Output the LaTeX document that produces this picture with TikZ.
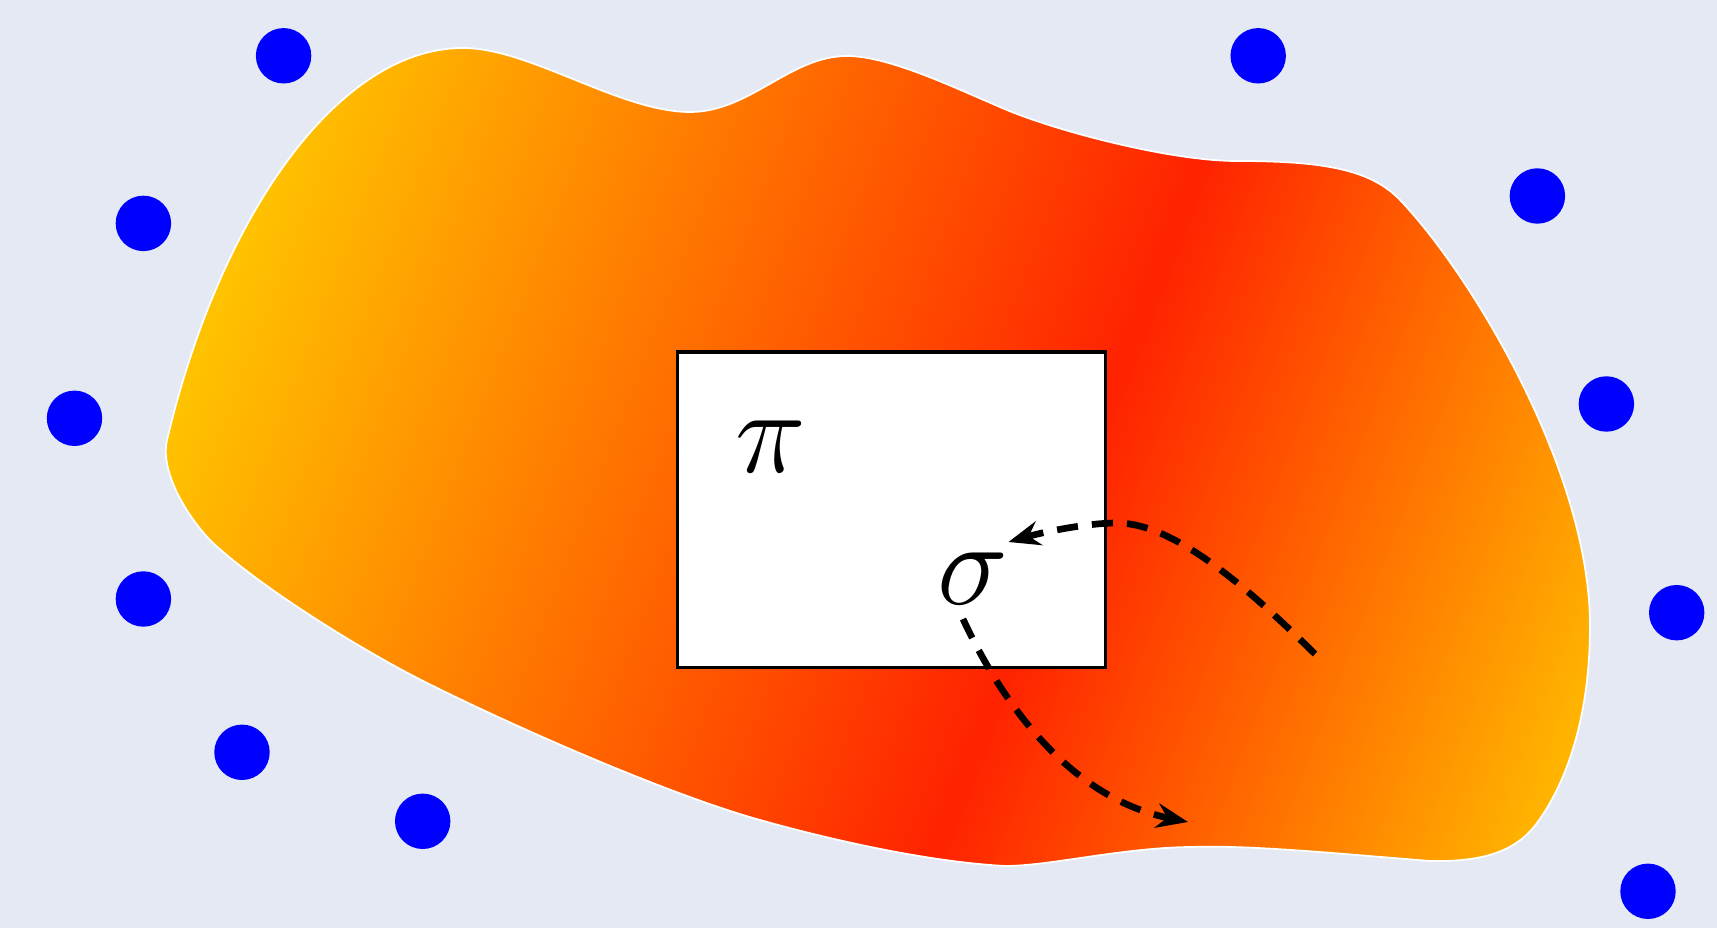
\RequirePackage{fix-cm}
\documentclass[tikz,border=0pt]{standalone}
\usetikzlibrary{arrows.meta,calc}
\definecolor{bg}{HTML}{E4E9F4}
\definecolor{cY}{HTML}{FFC200}
\definecolor{cR}{HTML}{FF2200}
\definecolor{cO}{HTML}{FFB400}
\definecolor{dotblue}{HTML}{0000FF}
\pgfdeclarehorizontalshading{blobshade}{100bp}{color(0bp)=(cY); color(33.6bp)=(cY); color(55.3bp)=(cR); color(69.1bp)=(cO); color(100bp)=(cO)}
\begin{document}
\begin{tikzpicture}[x=0.01cm,y=-0.01cm,
  dot/.style={circle,fill=dotblue,inner sep=0pt,minimum size=0.554cm},
  greek/.style={inner sep=0pt,font=\fontsize{34}{40}\selectfont},
  flow/.style={line width=1.9pt,dash pattern=on 6pt off 4pt,-{Stealth[length=9pt,width=7pt,inset=3pt]}},
  box/.style={draw=black,fill=white,line width=0.95pt,minimum width=4.282cm,minimum height=3.154cm,inner sep=0pt,anchor=north west}]
\useasboundingbox (0,0) rectangle (1717,928);
\fill[bg] (0,0) rectangle (1717,928);
\begin{scope}
\clip (167,440) .. controls (220,216) and (338,48) .. (463,48)
 .. controls (530,48) and (620,112) .. (690,112)
 .. controls (750,112) and (790,56) .. (847,56)
 .. controls (890,56) and (957,89) .. (1007,110)
 .. controls (1057,131) and (1170,161) .. (1237,161)
 .. controls (1320,161) and (1370,168.5) .. (1400,200)
 .. controls (1470,273) and (1590,470) .. (1590,626)
 .. controls (1590,720) and (1565,785) .. (1537,823)
 .. controls (1515,853) and (1480,862) .. (1430,861)
 .. controls (1330,853) and (1250,845) .. (1190,847)
 .. controls (1120,848) and (1050,866) .. (1005,866)
 .. controls (930,862) and (835,841) .. (760,820)
 .. controls (670,795) and (517,728) .. (427,683)
 .. controls (357,648) and (258,585) .. (213,543)
 .. controls (193,524) and (159,475) .. (167,440) -- cycle;
\begin{scope}[transform canvas={shift={(858,464)},rotate=-21}]
\shade[shading=blobshade] (-1000,-1000) rectangle (1000,1000);
\end{scope}
\end{scope}
\draw[white,line width=0.5pt] (167,440) .. controls (220,216) and (338,48) .. (463,48)
 .. controls (530,48) and (620,112) .. (690,112)
 .. controls (750,112) and (790,56) .. (847,56)
 .. controls (890,56) and (957,89) .. (1007,110)
 .. controls (1057,131) and (1170,161) .. (1237,161)
 .. controls (1320,161) and (1370,168.5) .. (1400,200)
 .. controls (1470,273) and (1590,470) .. (1590,626)
 .. controls (1590,720) and (1565,785) .. (1537,823)
 .. controls (1515,853) and (1480,862) .. (1430,861)
 .. controls (1330,853) and (1250,845) .. (1190,847)
 .. controls (1120,848) and (1050,866) .. (1005,866)
 .. controls (930,862) and (835,841) .. (760,820)
 .. controls (670,795) and (517,728) .. (427,683)
 .. controls (357,648) and (258,585) .. (213,543)
 .. controls (193,524) and (159,475) .. (167,440) -- cycle;
\node[box] (box) at (675.6,350.4) {};
\node[greek] (p) at (770.5,446.5) {$\pi$};
\node[greek] (s) at (972.5,579) {$\sigma$};
\coordinate (a1) at (1315,654);
\coordinate (a2) at (1188,822);
\draw[flow] (a1) .. controls (1250,590) and (1175,523) .. (1117,523) .. controls (1085,523) and (1040,533) .. ($(s.center)+(36,-37)$);
\draw[flow] ($(s.center)+(-9.5,40)$) .. controls (1010,720) and (1080,800) .. (a2);
\node[dot] (d1) at (283.6,55.8) {};
\node[dot] (d2) at (1258.2,55.8) {};
\node[dot] (d3) at (143.4,223.4) {};
\node[dot] (d4) at (1537.4,196) {};
\node[dot] (d5) at (74.5,418.3) {};
\node[dot] (d6) at (1606.4,404) {};
\node[dot] (d7) at (143.4,599) {};
\node[dot] (d8) at (1676.7,612.7) {};
\node[dot] (d9) at (242,752.3) {};
\node[dot] (d10) at (422.7,821.3) {};
\node[dot] (d11) at (1648,891.3) {};
\end{tikzpicture}
\end{document}
